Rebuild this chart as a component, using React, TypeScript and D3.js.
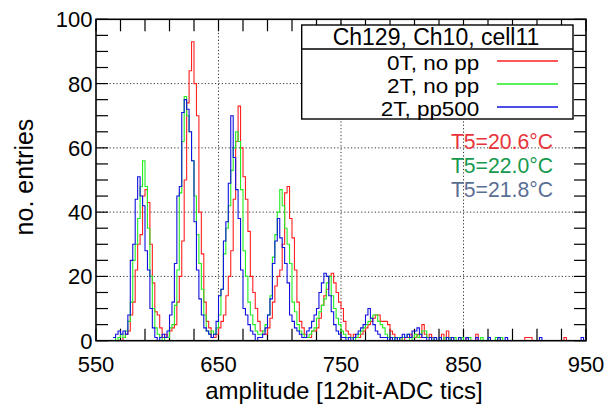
import React from "react";
import * as d3 from "d3";

const BIN_START = 564;
const BIN_WIDTH = 2;

const blueCounts = [
  1, 2, 3, 2, 3, 2, 8, 25, 30, 44,
  51, 45, 42, 28, 22, 10, 4, 1, 0, 1,
  2, 1, 3, 8, 12, 24, 45, 48, 71, 75,
  72, 65, 56, 37, 22, 13, 8, 4, 3, 2,
  1, 2, 6, 14, 16, 31, 37, 49, 70, 57,
  47, 38, 22, 10, 8, 5, 3, 2, 0, 1,
  1, 2, 4, 8, 13, 24, 31, 38, 32, 29,
  24, 18, 8, 6, 4, 3, 2, 1, 1, 3,
  4, 6, 8, 10, 15, 18, 21, 20, 14, 9,
  5, 3, 2, 1, 1, 0, 1, 0, 1, 2,
  3, 4, 5, 8, 10, 7, 5, 3, 2, 1,
  1, 1, 0, 1, 0, 1, 0, 1, 2, 1,
  2, 1, 3, 3, 4, 2, 1, 1, 0, 1,
  0, 1, 0, 1, 0, 0, 1, 0, 1, 0,
  0, 1, 0, 0, 1, 0, 0, 0, 1, 0,
  0, 0, 0, 1, 0, 0, 0, 1, 0, 0,
  1, 0, 0, 0, 0, 0, 0, 0, 0, 0,
  0, 0, 0, 0, 1, 0, 0, 0, 0, 0,
  0, 0, 0, 0, 0, 0, 0, 0, 0, 0,
  0, 1, 0,
];

const greenCounts = [
  1, 0, 1, 2, 1, 3, 6, 12, 25, 30,
  38, 48, 56, 48, 35, 20, 10, 4, 2, 1,
  0, 1, 1, 4, 5, 11, 22, 46, 62, 76,
  70, 65, 56, 45, 33, 24, 16, 8, 3, 2,
  3, 2, 4, 8, 16, 27, 35, 42, 53, 60,
  65, 62, 47, 28, 20, 12, 8, 5, 3, 2,
  2, 3, 5, 8, 14, 26, 33, 40, 47, 42,
  35, 30, 24, 12, 9, 5, 3, 2, 1, 1,
  2, 3, 4, 7, 9, 11, 13, 18, 20, 14,
  10, 7, 5, 3, 2, 1, 1, 1, 0, 1,
  2, 3, 4, 5, 6, 7, 8, 8, 6, 5,
  4, 2, 1, 1, 1, 0, 1, 0, 1, 1,
  2, 0, 1, 2, 1, 2, 3, 3, 1, 1,
  0, 1, 0, 1, 0, 1, 0, 1, 0, 1,
  0, 0, 1, 0, 0, 1, 0, 0, 0, 0,
  1, 0, 0, 1, 0, 0, 1, 0, 1, 0,
  0, 0, 0, 0, 0, 0, 0, 0, 0, 0,
  0, 0, 0, 0, 0, 0, 0, 0, 0, 0,
  0, 0, 0, 0, 0, 0, 0, 0, 0, 0,
  0, 0, 0,
];

const redCounts = [
  0, 0, 0, 0, 1, 2, 3, 8, 12, 22,
  30, 33, 45, 47, 43, 30, 18, 9, 8, 4,
  1, 2, 1, 3, 4, 5, 12, 20, 31, 50,
  74, 84, 93, 80, 70, 40, 27, 12, 6, 4,
  1, 1, 2, 4, 6, 8, 14, 20, 28, 44,
  62, 73, 60, 51, 44, 34, 20, 15, 10, 6,
  3, 2, 2, 4, 7, 12, 17, 20, 22, 30,
  46, 48, 38, 32, 22, 12, 6, 4, 2, 1,
  1, 3, 3, 4, 7, 11, 14, 16, 20, 21,
  18, 15, 12, 10, 6, 3, 2, 1, 2, 1,
  1, 2, 3, 4, 5, 6, 7, 8, 8, 6,
  6, 6, 5, 3, 2, 1, 1, 1, 0, 1,
  1, 2, 1, 1, 2, 1, 5, 2, 1, 2,
  1, 1, 0, 1, 2, 0, 3, 1, 0, 0,
  0, 0, 0, 0, 1, 0, 0, 0, 2, 0,
  0, 0, 0, 0, 0, 0, 0, 0, 0, 0,
  0, 0, 0, 0, 0, 0, 0, 0, 1, 1,
  1, 0, 0, 0, 0, 0, 0, 0, 0, 0,
  0, 0, 0, 0, 1, 0, 0, 0, 0, 0,
  0, 0, 0,
];

const seriesNames = ["0T, no pp", "2T, no pp", "2T, pp500"];
const seriesColors = ["#ff2020", "#20ee20", "#1010e0"];
const tempLabels = ["T5=20.6°C", "T5=22.0°C", "T5=21.8°C"];
const tempColors = ["#e8333a", "#16994e", "#5a6e94"];
const legendTitle = "Ch129, Ch10, cell11";
const xTicksMajor = [550, 650, 750, 850, 950];
const yTicksMajor = [0, 20, 40, 60, 80, 100];
const xTitle = "amplitude [12bit-ADC tics]";
const yTitle = "no. entries";

const W = 616;
const H = 405;
const L = 96;
const R = 586;
const T = 19.3;
const B = 340.7;
const FONT = "'Liberation Sans', Arial, Helvetica, sans-serif";

export default function App() {
  const x = d3.scaleLinear().domain([550, 950]).range([L, R]);
  const y = d3.scaleLinear().domain([0, 100]).range([B, T]);

  const makePath = (counts: number[]) => {
    const pts: [number, number][] = counts.map((c, i) => [BIN_START + i * BIN_WIDTH, c]);
    pts.push([BIN_START + counts.length * BIN_WIDTH, counts[counts.length - 1]]);
    const line = d3
      .line<[number, number]>()
      .x((d) => x(d[0]))
      .y((d) => y(d[1]))
      .curve(d3.curveStepAfter);
    return line(pts) || "";
  };

  const allSeries = [redCounts, greenCounts, blueCounts];
  const xMinor = d3.range(550, 951, 20);
  const yMinor = d3.range(0, 101, 5);
  const tick = 12;

  const lgL = 301.7, lgR = 573, lgT = 25, lgB = 119, lgSep = 49;

  return (
    <svg
      width={W}
      height={H}
      style={{ position: "absolute", left: 0, top: 0, background: "#fff" }}
      fontFamily={FONT}
    >
      <defs>
        <clipPath id="plotClip">
          <rect x={L} y={T} width={R - L} height={B - T} />
        </clipPath>
      </defs>
      <rect x={0} y={0} width={W} height={H} fill="#fff" />
      <g stroke="#333" strokeWidth={1} strokeDasharray="1.2,2.2">
        {xTicksMajor.slice(1, -1).map((v) => (
          <line key={"gx" + v} x1={x(v)} x2={x(v)} y1={T} y2={B} />
        ))}
        {yTicksMajor.slice(1, -1).map((v) => (
          <line key={"gy" + v} x1={L} x2={R} y1={y(v)} y2={y(v)} />
        ))}
      </g>
      <g stroke="#000" strokeWidth={1.2}>
        {xMinor.map((v) => (
          <g key={"tx" + v}>
            <line x1={x(v)} x2={x(v)} y1={B} y2={B - tick} />
            <line x1={x(v)} x2={x(v)} y1={T} y2={T + tick} />
          </g>
        ))}
        {yMinor.map((v) => (
          <g key={"ty" + v}>
            <line x1={L} x2={L + tick} y1={y(v)} y2={y(v)} />
            <line x1={R} x2={R - tick} y1={y(v)} y2={y(v)} />
          </g>
        ))}
      </g>
      <g clipPath="url(#plotClip)" fill="none" strokeWidth={1.1}>
        {allSeries.map((s, i) => (
          <path key={"h" + i} d={makePath(s)} stroke={seriesColors[i]} />
        ))}
      </g>
      <rect x={L} y={T} width={R - L} height={B - T} fill="none" stroke="#000" strokeWidth={1.6} />
      <g fontSize={22} fill="#000">
        {xTicksMajor.map((v) => (
          <text key={"lx" + v} x={x(v)} y={372} textAnchor="middle">
            {v}
          </text>
        ))}
        {yTicksMajor.map((v) => (
          <text key={"ly" + v} x={92.5} y={y(v) + 8} textAnchor="end">
            {v}
          </text>
        ))}
      </g>
      <text x={344} y={399} fontSize={24} textAnchor="middle" fill="#000">
        {xTitle}
      </text>
      <text
        transform={`translate(33,177) rotate(-90)`}
        fontSize={25}
        textAnchor="middle"
        fill="#000"
      >
        {yTitle}
      </text>
      <rect x={lgL} y={lgT} width={lgR - lgL} height={lgB - lgT} fill="#fff" stroke="#000" strokeWidth={1.4} />
      <line x1={lgL} x2={lgR} y1={lgSep} y2={lgSep} stroke="#000" strokeWidth={1.4} />
      <text x={436} y={45} fontSize={23} textAnchor="middle" fill="#000">
        {legendTitle}
      </text>
      {seriesNames.map((n, i) => (
        <g key={"lg" + i}>
          <g transform={`translate(479.3,${70 + i * 23}) scale(1.1,1)`}>
            <text x={0} y={0} fontSize={20.4} textAnchor="end" fill="#000">
              {n}
            </text>
          </g>
          <line x1={497} x2={558} y1={61 + i * 23} y2={61 + i * 23} stroke={seriesColors[i]} strokeWidth={1.3} />
        </g>
      ))}
      {tempLabels.map((t, i) => (
        <text key={"t" + i} x={553} y={149.3 + i * 24} fontSize={21.2} textAnchor="end" fill={tempColors[i]}>
          {t}
        </text>
      ))}
    </svg>
  );
}
